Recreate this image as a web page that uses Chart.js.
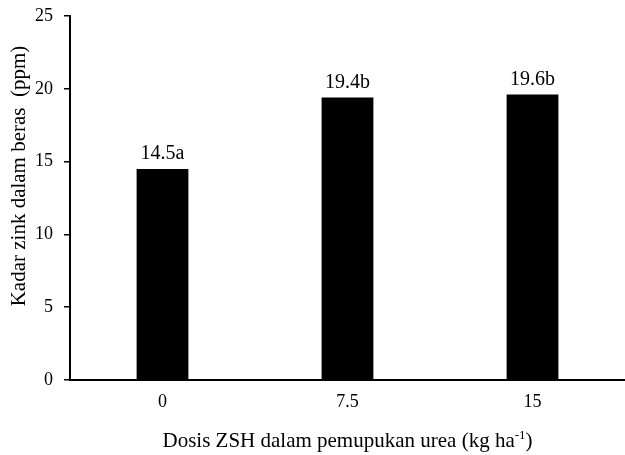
<!DOCTYPE html>
<html>
<head>
<meta charset="utf-8">
<script src="https://cdn.jsdelivr.net/npm/chart.js@4/dist/chart.umd.min.js"></script>
<style>
html,body{margin:0;padding:0;background:#fff;}
#wrap{width:625px;height:455px;}
</style>
</head>
<body>
<div id="wrap"><canvas id="c" width="625" height="455"></canvas></div>
<script>
const categories = ['0', '7.5', '15'];
const zincValues = [14.5, 19.4, 19.6];
const valueLabels = ['14.5a', '19.4b', '19.6b'];
const yTicks = [0, 5, 10, 15, 20, 25];
const yTitle = 'Kadar zink dalam beras  (ppm)';
const xTitleMain = 'Dosis ZSH dalam pemupukan urea (kg ha';
const xTitleSup = '-1';
const xTitleEnd = ')';

const FONT = '"Liberation Serif", "Times New Roman", serif';

const labelPlugin = {
  id: 'labels',
  afterDatasetsDraw(chart) {
    const ctx = chart.ctx;
    const meta = chart.getDatasetMeta(0);
    ctx.save();
    ctx.fillStyle = '#000';
    ctx.font = '20px ' + FONT;
    ctx.textAlign = 'center';
    ctx.textBaseline = 'alphabetic';
    meta.data.forEach((bar, i) => {
      ctx.fillText(valueLabels[i], bar.x, bar.y - 10);
    });
    // x title with superscript
    const area = chart.chartArea;
    const cx = (area.left + area.right) / 2;
    const y = 447;
    ctx.font = '21px ' + FONT;
    const w1 = ctx.measureText(xTitleMain).width;
    ctx.font = '13px ' + FONT;
    const w2 = ctx.measureText(xTitleSup).width;
    ctx.font = '21px ' + FONT;
    const w3 = ctx.measureText(xTitleEnd).width;
    let x = cx - (w1 + w2 + w3) / 2;
    ctx.textAlign = 'left';
    ctx.fillText(xTitleMain, x, y);
    x += w1;
    ctx.font = '13px ' + FONT;
    ctx.fillText(xTitleSup, x, y - 8);
    x += w2;
    ctx.font = '21px ' + FONT;
    ctx.fillText(xTitleEnd, x, y);
    // y title
    ctx.save();
    ctx.translate(25, 176);
    ctx.rotate(-Math.PI / 2);
    ctx.textAlign = 'center';
    ctx.textBaseline = 'alphabetic';
    ctx.font = '21px ' + FONT;
    ctx.fillText(yTitle, 0, 0);
    ctx.restore();
    ctx.restore();
  }
};

new Chart(document.getElementById('c'), {
  type: 'bar',
  data: {
    labels: categories,
    datasets: [{
      data: zincValues,
      backgroundColor: '#000',
      borderWidth: 0,
      barPercentage: 0.28,
      categoryPercentage: 1.0
    }]
  },
  options: {
    responsive: false,
    animation: false,
    devicePixelRatio: 1,
    layout: { padding: { top: 16, left: 0, right: 0, bottom: 0 } },
    plugins: { legend: { display: false }, tooltip: { enabled: false } },
    scales: {
      x: {
        grid: { display: false },
        border: { display: true, color: '#000', width: 2 },
        ticks: { color: '#000', font: { family: FONT, size: 18 }, padding: 3 },
        afterFit(s) { s.height = 75; s.paddingLeft = 0; s.paddingRight = 0; }
      },
      y: {
        min: 0, max: 25,
        afterBuildTicks(s) { s.ticks = yTicks.map(v => ({ value: v })); },
        grid: { drawOnChartArea: false, drawTicks: true, tickLength: 6, color: '#000', lineWidth: 1.5 },
        border: { display: true, color: '#000', width: 2 },
        ticks: { color: '#000', font: { family: FONT, size: 18 }, padding: 11 },
        title: { display: false },
        afterFit(s) { s.width = 70; s.paddingTop = 0; s.paddingBottom = 0; }
      }
    }
  },
  plugins: [labelPlugin]
});
</script>
</body>
</html>
